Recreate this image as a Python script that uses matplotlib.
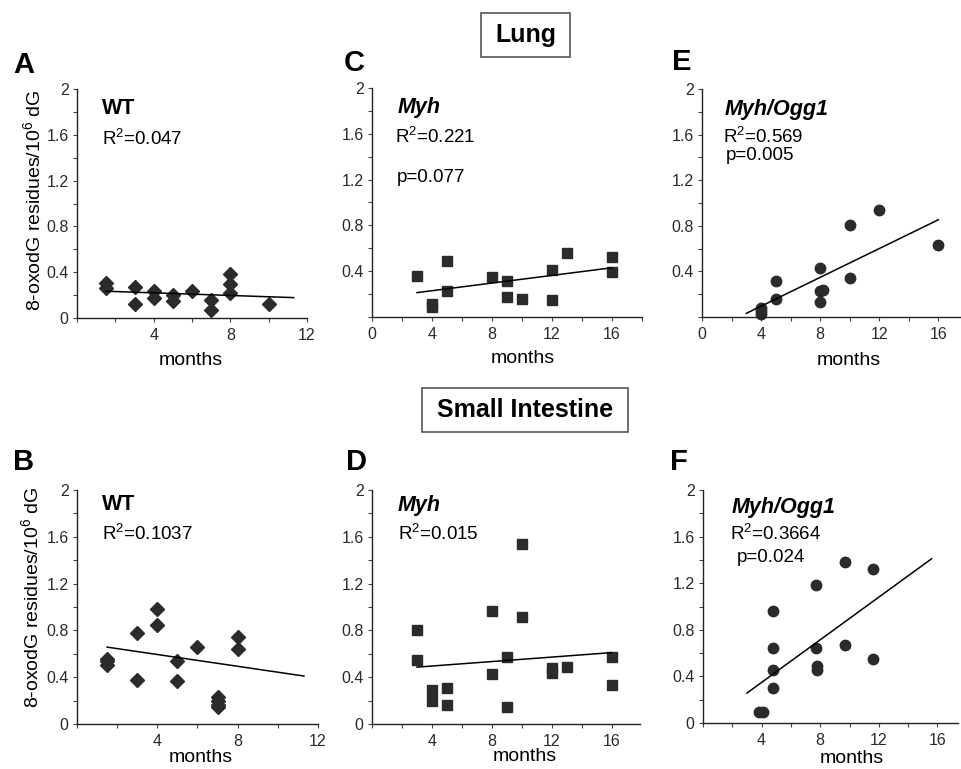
import numpy as np
import matplotlib
matplotlib.use('Agg')
import matplotlib.pyplot as plt
from matplotlib.patches import Rectangle
from matplotlib.ticker import MultipleLocator, FixedLocator

plt.rcParams['font.family'] = ['Liberation Sans', 'DejaVu Sans']
plt.rcParams['mathtext.fontset'] = 'custom'
plt.rcParams['mathtext.rm'] = 'Liberation Sans'
plt.rcParams['mathtext.it'] = 'Liberation Sans:italic'
plt.rcParams['mathtext.bf'] = 'Liberation Sans:bold'

W, H = 962, 769

# --- data (months, 8-oxodG residues/10^6 dG) ---
# A: lung, WT
a_x = [1.5, 1.5, 3, 3, 4, 4, 5, 5, 6, 7, 7, 8, 8, 8, 10]
a_y = [0.31, 0.26, 0.27, 0.12, 0.24, 0.175, 0.20, 0.146, 0.24, 0.155, 0.07, 0.38, 0.30, 0.22, 0.12]
a_fit = ([1.5, 11.3], [0.234, 0.178])

# C: lung, Myh
c_x = [3, 4, 4, 5, 5, 8, 9, 9, 10, 12, 12, 13, 16, 16]
c_y = [0.356, 0.117, 0.088, 0.488, 0.228, 0.35, 0.315, 0.175, 0.16, 0.41, 0.146, 0.56, 0.525, 0.394]
c_fit = ([3, 16], [0.213, 0.43])

# E: lung, Myh/Ogg1
e_x = [4, 4, 4, 5, 5, 8, 8, 8, 8.2, 10, 10, 12, 16]
e_y = [0.079, 0.05, 0.03, 0.315, 0.158, 0.426, 0.225, 0.13, 0.236, 0.81, 0.345, 0.94, 0.628]
e_fit = ([3, 16], [0.032, 0.853])

# B: small intestine, WT
b_x = [1.5, 1.5, 1.5, 3, 3, 4, 4, 5, 5, 6, 7, 7, 7, 7, 8, 8]
b_y = [0.558, 0.535, 0.506, 0.78, 0.378, 0.98, 0.845, 0.535, 0.364, 0.66, 0.228, 0.193, 0.165, 0.145, 0.74, 0.643]
b_fit = ([1.5, 11.3], [0.657, 0.41])

# D: small intestine, Myh
d_x = [3, 3, 4, 4, 5, 5, 8, 8, 9, 9, 10, 10, 12, 12, 13, 16, 16]
d_y = [0.805, 0.543, 0.293, 0.193, 0.307, 0.165, 0.97, 0.43, 0.569, 0.142, 1.54, 0.913, 0.478, 0.44, 0.486, 0.569, 0.33]
d_fit = ([3, 16], [0.486, 0.61])

# F: small intestine, Myh/Ogg1
f_x = [3.8, 4.1, 4.8, 4.8, 4.8, 4.8, 7.7, 7.7, 7.8, 7.8, 9.7, 9.7, 11.6, 11.6]
f_y = [0.094, 0.094, 0.96, 0.643, 0.451, 0.30, 1.183, 0.643, 0.486, 0.457, 1.386, 0.671, 1.32, 0.549]
f_fit = ([3, 15.6], [0.257, 1.41])


def fx(x):
    return x / W


def fy(y):
    return 1 - y / H


fig = plt.figure(figsize=(W / 100, H / 100), dpi=100)
dark = '#2b2b2b'


def panel(box, xmax, x, y, fit, marker, ms, xticks, yticks, letter, letter_pos,
          texts, months_x, months_y):
    l, r, t, b = box
    ax = fig.add_axes([fx(l), fy(b), (r - l) / W, (b - t) / H])
    ax.plot(x, y, linestyle='none', marker=marker, ms=ms, color=dark, clip_on=False)
    ax.plot(fit[0], fit[1], color='black', lw=1.1)
    ax.set_xlim(0, xmax)
    ax.set_ylim(0, 2)
    for s in ['top', 'right']:
        ax.spines[s].set_visible(False)
    for s in ['left', 'bottom']:
        ax.spines[s].set_linewidth(1.0)
        ax.spines[s].set_color('#222222')
    ax.xaxis.set_major_locator(FixedLocator(xticks))
    ax.xaxis.set_minor_locator(MultipleLocator(2))
    ax.yaxis.set_major_locator(FixedLocator(yticks))
    ax.yaxis.set_minor_locator(MultipleLocator(0.2))
    ax.set_xticklabels([str(v) for v in xticks])
    ax.set_yticklabels(['0' if v == 0 else ('2' if v == 2 else '%.1f' % v) for v in yticks])
    ax.tick_params(which='both', direction='out', length=3, width=0.8,
                   labelsize=11.5, labelcolor='#2a2a2a', color='#444444')
    ax.tick_params(axis='y', pad=3)
    ax.tick_params(axis='x', pad=4.5)
    fig.text(fx(letter_pos[0]), fy(letter_pos[1]), letter, fontsize=21,
             fontweight='bold', ha='left', va='center')
    for tx, ty, s, kw in texts:
        fig.text(fx(tx), fy(ty), s, ha='left', va='center', **kw)
    fig.text(fx(months_x), fy(months_y), 'months', fontsize=14, ha='center', va='baseline')
    return ax


bold = dict(fontsize=15.5, fontweight='bold')
boldit = dict(fontsize=15.5, fontweight='bold', fontstyle='italic')
stat = dict(fontsize=13.5)

yt_top = [0.4, 0.8, 1.2, 1.6, 2]
yt_bot = [0, 0.4, 0.8, 1.2, 1.6, 2]

panel((77, 307, 89, 318), 12, a_x, a_y, a_fit, 'D', 6.8, [4, 8, 12], [0] + yt_top,
      'A', (13, 65),
      [(102, 108, 'WT', bold), (102, 139, r'R$^2$=0.047', stat)], 191, 365)
panel((372, 642, 88, 317), 18, c_x, c_y, c_fit, 's', 7, [0, 4, 8, 12, 16], yt_top,
      'C', (344, 63),
      [(398, 108, 'Myh', boldit), (395, 137, r'R$^2$=0.221', stat),
       (397, 177, 'p=0.077', stat)], 523, 363)
panel((702, 962, 89, 317), 17.6, e_x, e_y, e_fit, 'o', 7.5, [0, 4, 8, 12, 16], yt_top,
      'E', (672, 62),
      [(725, 110, 'Myh/Ogg1', boldit), (723, 137, r'R$^2$=0.569', stat),
       (726, 156, 'p=0.005', stat)], 849, 365)
panel((77, 318, 490, 724), 12, b_x, b_y, b_fit, 'D', 6.8, [4, 8, 12], yt_bot,
      'B', (13, 462),
      [(102, 505, 'WT', bold), (102, 534, r'R$^2$=0.1037', stat)], 201, 762)
panel((372, 640, 490, 724), 17.9, d_x, d_y, d_fit, 's', 7, [4, 8, 12, 16], yt_bot,
      'D', (346, 462),
      [(398, 505, 'Myh', boldit), (398, 534, r'R$^2$=0.015', stat)], 525, 761)
panel((703, 958, 490, 723), 17.4, f_x, f_y, f_fit, 'o', 7.5, [4, 8, 12, 16], yt_bot,
      'F', (670, 462),
      [(732, 507, 'Myh/Ogg1', boldit), (730, 534, r'R$^2$=0.3664', stat),
       (737, 557, 'p=0.024', stat)], 852, 763)

# y axis labels
ylab = r'8-oxodG residues/10$^6$ dG'
fig.text(fx(33), fy(200), ylab, rotation=90, fontsize=14, ha='center', va='center')
fig.text(fx(31), fy(597), ylab, rotation=90, fontsize=14, ha='center', va='center')

# tissue boxes
for (l, r, t, b), label in [((481, 570, 13, 57), 'Lung'),
                            ((422, 628, 388, 432), 'Small Intestine')]:
    fig.patches.append(Rectangle((fx(l), fy(b)), (r - l) / W, (b - t) / H,
                                 transform=fig.transFigure, fill=False,
                                 edgecolor='#555555', lw=1.2))
    fig.text(fx((l + r) / 2), fy((t + b) / 2), label, fontsize=18,
             fontweight='bold', ha='center', va='center')

plt.savefig('out.png', dpi=100)
